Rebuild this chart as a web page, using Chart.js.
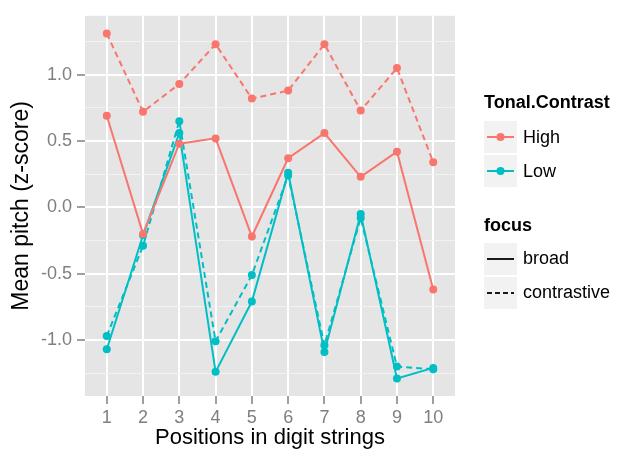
<!DOCTYPE html>
<html>
<head>
<meta charset="utf-8">
<script src="https://cdn.jsdelivr.net/npm/chart.js@4"></script>
<style>
  html, body { margin: 0; padding: 0; background: #ffffff; }
  #wrap { width: 618px; height: 452px; position: relative; }
</style>
</head>
<body>
<div id="wrap"><canvas id="pitchChart"></canvas></div>
<script>
const positions = [1, 2, 3, 4, 5, 6, 7, 8, 9, 10];
const highBroad = [0.69, -0.20, 0.48, 0.52, -0.22, 0.37, 0.56, 0.23, 0.42, -0.62];
const highContrastive = [1.31, 0.72, 0.93, 1.23, 0.82, 0.88, 1.23, 0.73, 1.05, 0.34];
const lowBroad = [-1.07, -0.21, 0.56, -1.24, -0.71, 0.26, -1.09, -0.05, -1.29, -1.21];
const lowContrastive = [-0.97, -0.29, 0.65, -1.01, -0.51, 0.24, -1.04, -0.08, -1.20, -1.22];
const yMajor = [-1, -0.5, 0, 0.5, 1];
const yMinor = [-1.25, -0.75, -0.25, 0.25, 0.75, 1.25];

const RED = '#F8766D';
const TEAL = '#00BFC4';
const FONT = "'Liberation Sans', Arial, sans-serif";

function series(label, values, color, dashed) {
  return {
    label: label,
    data: positions.map((p, i) => ({ x: p, y: values[i] })),
    borderColor: color,
    backgroundColor: color,
    borderWidth: 2,
    borderDash: dashed ? [6, 4] : [],
    pointRadius: 4,
    pointBorderWidth: 0,
    pointBackgroundColor: color,
    tension: 0,
    fill: false
  };
}

const panelBg = {
  id: 'panelBg',
  beforeDraw(chart) {
    const a = chart.chartArea;
    const ctx = chart.ctx;
    ctx.save();
    ctx.fillStyle = '#E5E5E5';
    ctx.fillRect(a.left, a.top, a.right - a.left, a.bottom - a.top);
    ctx.restore();
  }
};

const legendDraw = {
  id: 'legendDraw',
  afterDraw(chart) {
    const ctx = chart.ctx;
    const x0 = 484, kw = 33, kh = 32, tx = 523;
    ctx.save();
    ctx.fillStyle = '#000';
    ctx.textBaseline = 'middle';
    ctx.font = 'bold 18px ' + FONT;
    ctx.fillText('Tonal.Contrast', x0, 103);
    ctx.fillText('focus', x0, 226);

    const colourKeys = [['High', RED, 121], ['Low', TEAL, 155]];
    colourKeys.forEach(([name, col, y]) => {
      ctx.fillStyle = '#F2F2F2';
      ctx.fillRect(x0, y, kw, kh);
      ctx.strokeStyle = col;
      ctx.lineWidth = 2;
      ctx.setLineDash([]);
      ctx.beginPath();
      ctx.moveTo(x0 + 3, y + kh / 2);
      ctx.lineTo(x0 + kw - 3, y + kh / 2);
      ctx.stroke();
      ctx.fillStyle = col;
      ctx.beginPath();
      ctx.arc(x0 + kw / 2, y + kh / 2, 4, 0, Math.PI * 2);
      ctx.fill();
      ctx.fillStyle = '#000';
      ctx.font = '18px ' + FONT;
      ctx.fillText(name, tx, y + kh / 2 + 1);
    });

    const focusKeys = [['broad', [], 243], ['contrastive', [5, 3], 277]];
    focusKeys.forEach(([name, dash, y]) => {
      ctx.fillStyle = '#F2F2F2';
      ctx.fillRect(x0, y, kw, kh);
      ctx.strokeStyle = '#1a1a1a';
      ctx.lineWidth = 2;
      ctx.setLineDash(dash);
      ctx.beginPath();
      ctx.moveTo(x0 + 3, y + kh / 2);
      ctx.lineTo(x0 + kw - 3, y + kh / 2);
      ctx.stroke();
      ctx.setLineDash([]);
      ctx.fillStyle = '#000';
      ctx.font = '18px ' + FONT;
      ctx.fillText(name, tx, y + kh / 2);
    });
    ctx.restore();
  }
};

new Chart(document.getElementById('pitchChart'), {
  type: 'line',
  data: {
    datasets: [
      series('High broad', highBroad, RED, false),
      series('High contrastive', highContrastive, RED, true),
      series('Low broad', lowBroad, TEAL, false),
      series('Low contrastive', lowContrastive, TEAL, true)
    ]
  },
  options: {
    responsive: true,
    maintainAspectRatio: false,
    animation: false,
    layout: { padding: { top: 11, right: 163, bottom: 0, left: 0 } },
    plugins: {
      legend: { display: false },
      tooltip: { enabled: false }
    },
    scales: {
      x: {
        type: 'linear',
        min: 0.4,
        max: 10.6,
        afterBuildTicks: (scale) => { scale.ticks = positions.map(v => ({ value: v })); },
        afterFit: (scale) => { scale.height = 56; },
        grid: { color: '#ffffff', lineWidth: 2, tickLength: 8, tickColor: '#7f7f7f', tickWidth: 1.5 },
        border: { display: false },
        ticks: {
          color: '#7f7f7f',
          font: { family: FONT, size: 18 },
          padding: 3,
          maxRotation: 0,
          autoSkip: false,
          callback: (v) => String(v)
        },
        title: {
          display: true,
          text: 'Positions in digit strings',
          color: '#000',
          font: { family: FONT, size: 22 },
          padding: { top: 0, bottom: 1 }
        }
      },
      y: {
        min: -1.422,
        max: 1.444,
        afterBuildTicks: (scale) => {
          scale.ticks = yMajor.concat(yMinor).sort((a, b) => a - b).map(v => ({ value: v }));
        },
        afterFit: (scale) => { scale.width = 85; },
        grid: {
          color: (c) => yMajor.includes(c.tick.value) ? '#ffffff' : '#F2F2F2',
          lineWidth: (c) => yMajor.includes(c.tick.value) ? 2 : 1,
          tickLength: 8,
          tickWidth: 1.5,
          tickColor: (c) => yMajor.includes(c.tick.value) ? '#7f7f7f' : 'rgba(0,0,0,0)'
        },
        border: { display: false },
        ticks: {
          color: '#7f7f7f',
          font: { family: FONT, size: 18 },
          padding: 5,
          autoSkip: false,
          callback: (v) => yMajor.includes(v) ? v.toFixed(1) : ''
        },
        title: {
          display: true,
          text: 'Mean pitch (z-score)',
          color: '#000',
          font: { family: FONT, size: 23 },
          padding: { top: 8, bottom: 0 }
        }
      }
    }
  },
  plugins: [panelBg, legendDraw]
});
</script>
</body>
</html>
